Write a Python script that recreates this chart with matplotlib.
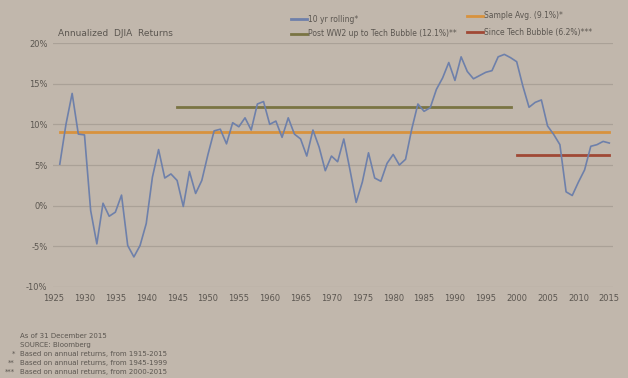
import matplotlib
matplotlib.use("Agg")
import matplotlib.pyplot as plt
import numpy as np

years = list(range(1926, 2016))
rolling_10yr = [
    5.1, 10.0, 13.8, 8.8, 8.7, -0.6, -4.7, 0.3, -1.3, -0.8,
    1.3, -4.9, -6.3, -4.9, -2.2, 3.5, 6.9, 3.4, 3.9, 3.1,
    -0.1, 4.2, 1.5, 3.1, 6.3, 9.2, 9.4, 7.6, 10.2, 9.7,
    10.8, 9.3, 12.5, 12.8, 10.0, 10.4, 8.4, 10.8, 8.8, 8.2,
    6.1, 9.3, 7.2, 4.3, 6.1, 5.4, 8.2, 4.4, 0.4, 2.9,
    6.5, 3.4, 3.0, 5.2, 6.3, 5.0, 5.7, 9.4, 12.5, 11.6,
    12.05, 14.3, 15.7, 17.6, 15.4, 18.3, 16.5, 15.6, 16.0, 16.4,
    16.6, 18.3, 18.6, 18.2, 17.7, 14.7, 12.1, 12.7, 13.0, 9.8,
    8.75, 7.5, 1.7, 1.25, 2.9, 4.4, 7.3, 7.5, 7.9, 7.7,
]
sample_avg = 9.1
sample_span = (1926, 2015)
postww2_avg = 12.1
postww2_span = (1945, 1999)
since_tech_avg = 6.2
since_tech_span = (2000, 2015)

x_ticks = list(range(1925, 2016, 5))
y_ticks = [-10, -5, 0, 5, 10, 15, 20]
y_labels = ["-10%", "-5%", "0%", "5%", "10%", "15%", "20%"]

labels = ["10 yr rolling*", "Post WW2 up to Tech Bubble (12.1%)**",
          "Sample Avg. (9.1%)*", "Since Tech Bubble (6.2%)***"]

footnotes = ["As of 31 December 2015", "SOURCE: Bloomberg",
             "Based on annual returns, from 1915-2015",
             "Based on annual returns, from 1945-1999",
             "Based on annual returns, from 2000-2015"]
foot_marks = ["", "", "*", "**", "***"]

bg = "#c1b7ac"
txt = "#5b5650"
c_roll = "#6e80aa"
c_samp = "#d8923e"
c_post = "#7a7443"
c_tech = "#a04835"

fig = plt.figure(figsize=(6.28, 3.78), dpi=100, facecolor=bg)
ax = fig.add_axes([53/628, 1 - 287/378, (613-53)/628, (287-43)/378])
ax.set_facecolor(bg)

ax.plot(years, rolling_10yr, color=c_roll, lw=1.2, zorder=4)
ax.plot(sample_span, [sample_avg]*2, color=c_samp, lw=2, zorder=3)
ax.plot(postww2_span, [postww2_avg]*2, color=c_post, lw=2, zorder=3)
ax.plot(since_tech_span, [since_tech_avg]*2, color=c_tech, lw=2, zorder=3)

ax.set_xlim(1924.9, 2015.6)
ax.set_ylim(-10, 20)
ax.set_yticks(y_ticks)
ax.set_yticklabels(y_labels)
ax.set_xticks(x_ticks)
ax.grid(axis="y", color="#aaa197", lw=0.9)
ax.tick_params(length=0, labelsize=6, colors=txt, pad=4)
ax.tick_params(axis="x", pad=5)
for s in ax.spines.values():
    s.set_visible(False)

fig.text(58/628, 1 - 34/378, "Annualized  DJIA  Returns", fontsize=6.5, color=txt, va="center")

# legend
leg_items = [(291, 19, c_roll, labels[0]), (291, 34, c_post, labels[1]),
             (467, 16, c_samp, labels[2]), (467, 32, c_tech, labels[3])]
for lx, ly, col, lab in leg_items:
    fig.add_artist(plt.Line2D([lx/628, (lx+16)/628], [1-ly/378]*2, color=col, lw=2))
    fig.text((lx+17)/628, 1-ly/378, lab, fontsize=5.5, color=txt, va="center")

for i, (m, t) in enumerate(zip(foot_marks, footnotes)):
    y = 1 - (336 + i*9)/378
    if m:
        fig.text(15/628, y, m, fontsize=5, color=txt, va="center", ha="right")
    fig.text(20/628, y, t, fontsize=5, color=txt, va="center")

fig.savefig("out.png", dpi=100, facecolor=bg)
